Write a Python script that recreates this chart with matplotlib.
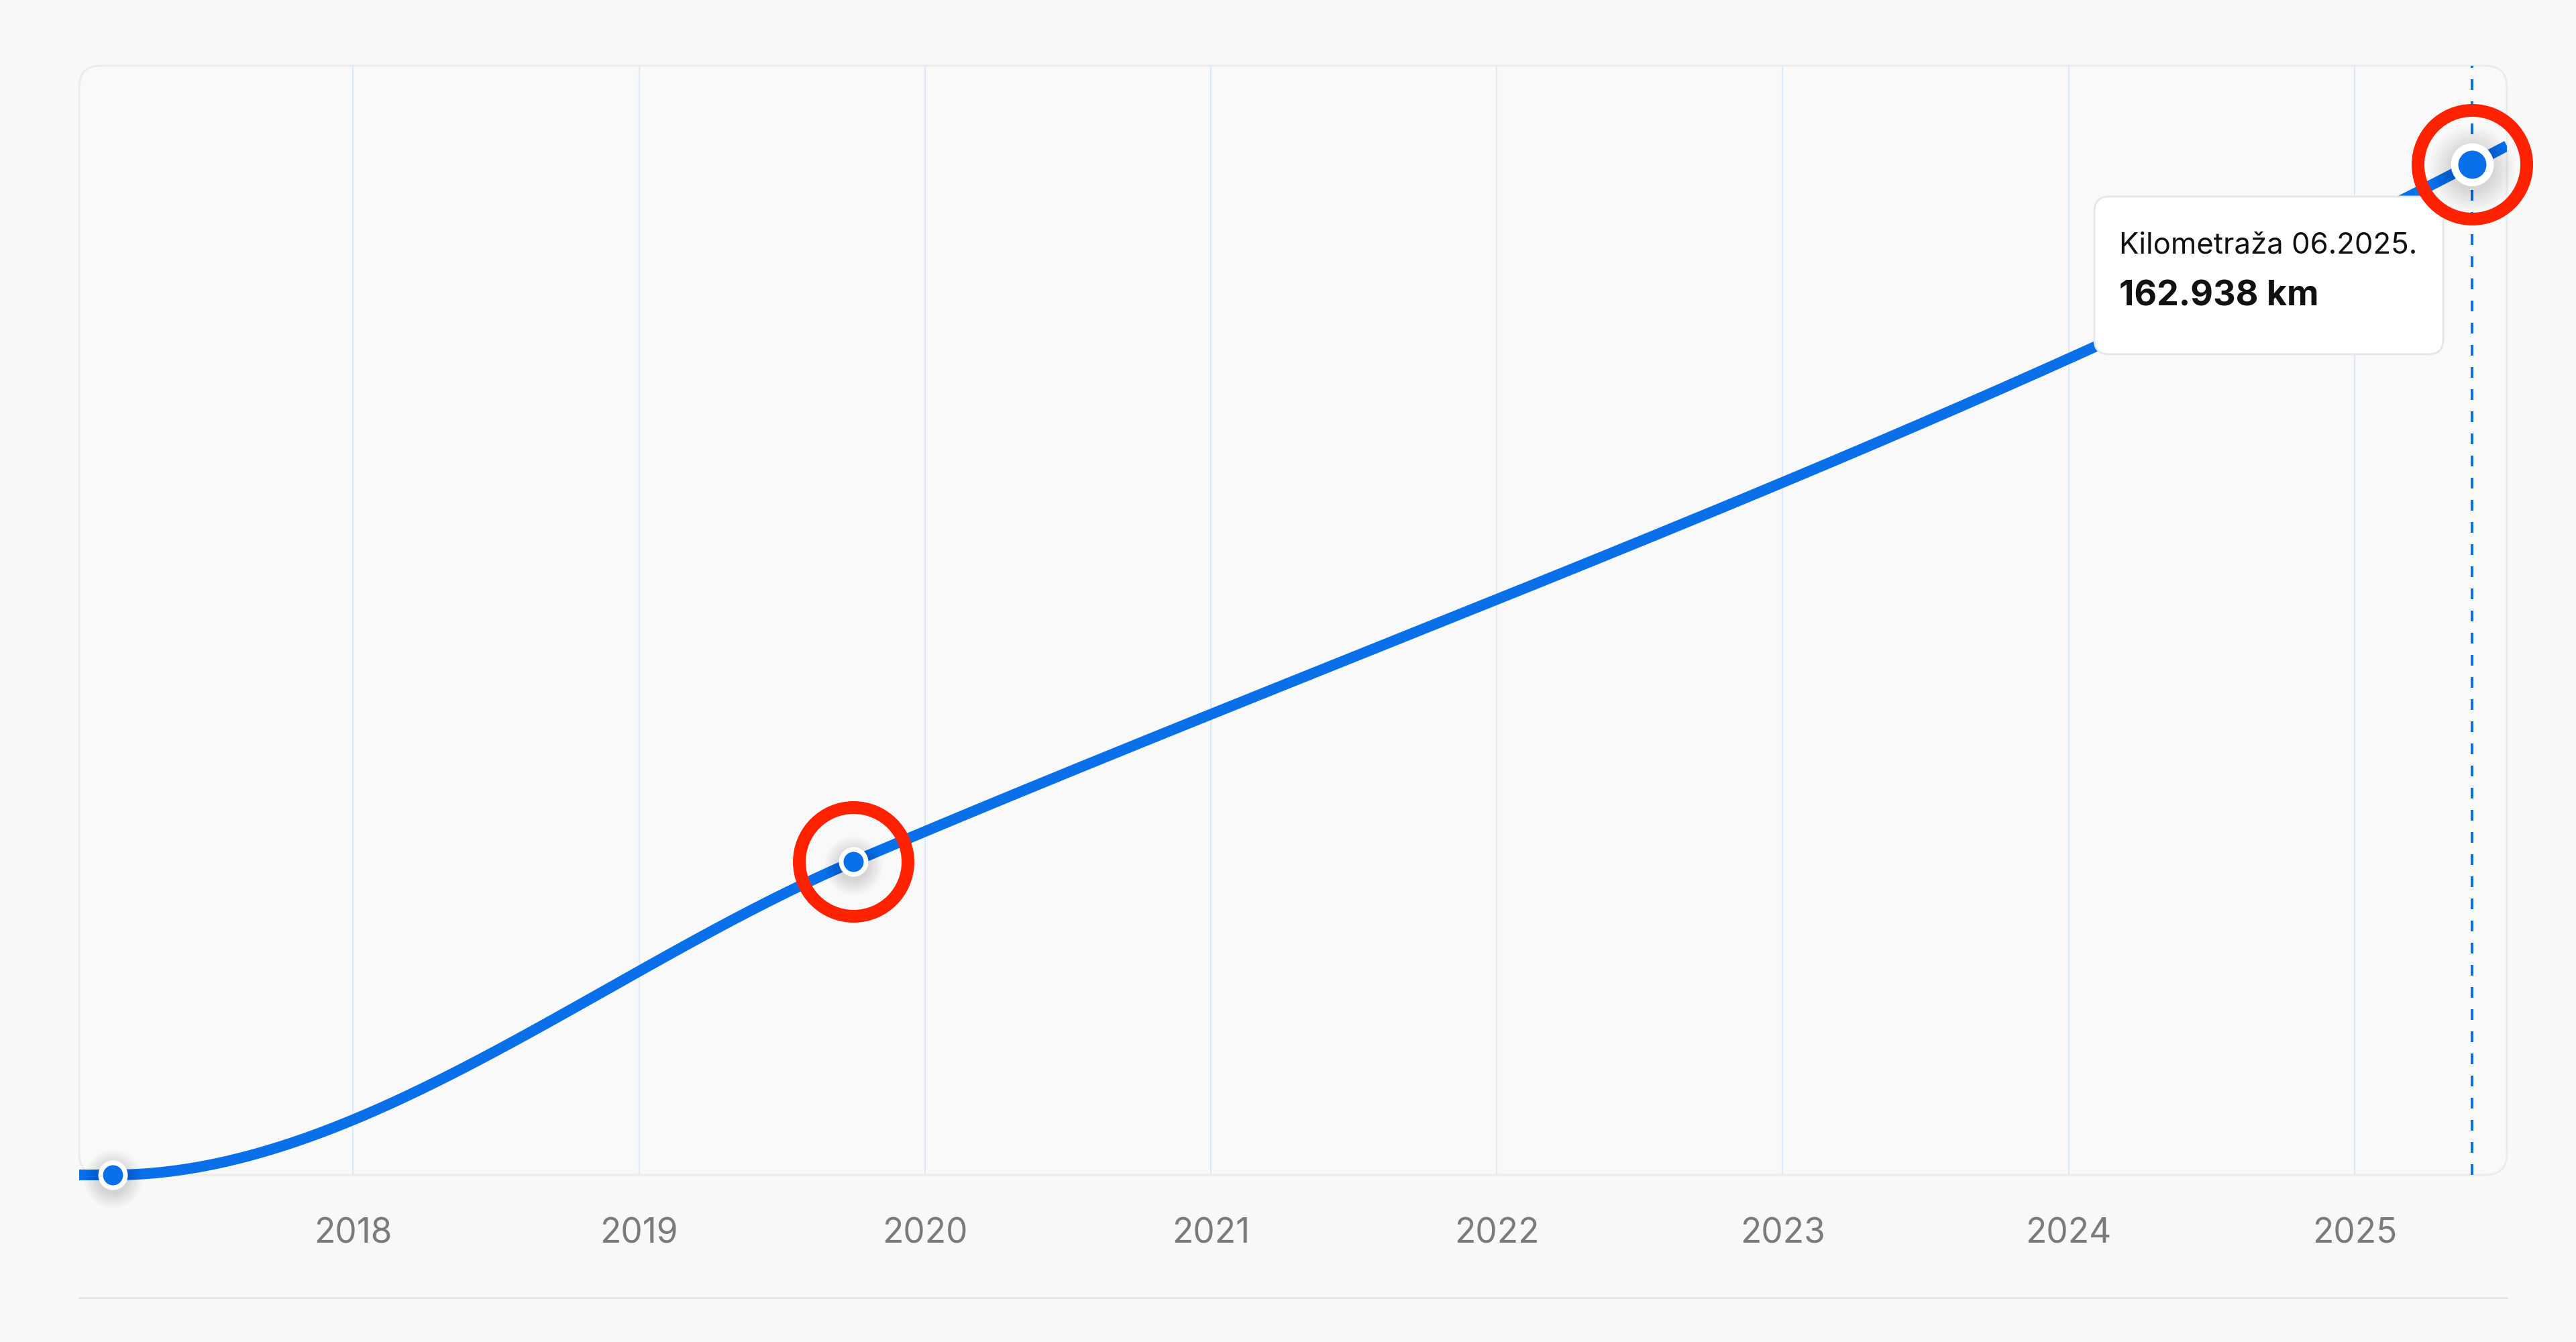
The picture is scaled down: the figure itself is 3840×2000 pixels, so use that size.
import numpy as np
import matplotlib
import matplotlib.pyplot as plt
from matplotlib.patches import FancyBboxPatch, Rectangle
from matplotlib.lines import Line2D
from matplotlib.transforms import IdentityTransform, offset_copy

plt.rcParams['font.family'] = ['Inter', 'DejaVu Sans']
plt.rcParams['lines.scale_dashes'] = False

# mileage readings: decimal year, km
years = [2017.16, 2019.75, 2025.41]
km = [0, 50500, 162938]
# the line runs on to both plot edges
edge_years = [2017.042, 2025.533]
edge_km = [0, 165900]
big_point = [False, False, True]
ringed = [False, True, True]

tick_years = [2018, 2019, 2020, 2021, 2022, 2023, 2024, 2025]
tip_title = 'Kilometraža 06.2025.'
tip_value = '162.938 km'

BLUE = '#0a70ea'
RED = '#ff2200'
BG = '#f8f8f8'
PX = 72 / 100  # points per pixel at dpi 100


def monotone_x(x, y, n=80):
    # same shape as d3.curveMonotoneX
    x = np.asarray(x, float)
    y = np.asarray(y, float)
    h = np.diff(x)
    s = np.diff(y) / h
    t = np.zeros(len(x))
    for i in range(1, len(x) - 1):
        p = (s[i-1] * h[i] + s[i] * h[i-1]) / (h[i-1] + h[i])
        t[i] = (np.sign(s[i-1]) + np.sign(s[i])) * min(abs(s[i-1]), abs(s[i]), 0.5 * abs(p))
    t[0] = (3 * s[0] - t[1]) / 2
    t[-1] = (3 * s[-1] - t[-2]) / 2
    xs, ys = [], []
    u = np.linspace(0, 1, n)
    for i in range(len(h)):
        h00 = 2*u**3 - 3*u**2 + 1
        h10 = u**3 - 2*u**2 + u
        h01 = -2*u**3 + 3*u**2
        h11 = u**3 - u**2
        xs.append(x[i] + u * h[i])
        ys.append(h00*y[i] + h10*h[i]*t[i] + h01*y[i+1] + h11*h[i]*t[i+1])
    return np.concatenate(xs), np.concatenate(ys)


W, H = 3840, 2000
L, R, T, B = 118, 3737, 98, 1751

fig = plt.figure(figsize=(W / 100, H / 100), dpi=100, facecolor=BG)
ax = fig.add_axes([L / W, 1 - B / H, (R - L) / W, (B - T) / H])
ax.set_facecolor('none')
ax.set_xlim(edge_years)
ax.set_ylim(0, 178800)
for sp in ax.spines.values():
    sp.set_visible(False)

# plot frame with rounded corners
frame = FancyBboxPatch((L, H - B), R - L, B - T, boxstyle='round,pad=0,rounding_size=32',
                       transform=IdentityTransform(), fc='#f9f9f9', ec='#ebebeb', lw=2, zorder=-1)
fig.add_artist(frame)

ax.set_xticks(tick_years)
ax.set_xticklabels([str(y) for y in tick_years])
ax.set_yticks([])
ax.grid(axis='x', color='#dde9f6', lw=1.6)
ax.tick_params(axis='x', length=0, pad=46, labelsize=37, labelcolor='#7b7b7b')

# line
cx, cy = monotone_x([edge_years[0]] + years + [edge_years[1]],
                    [edge_km[0]] + km + [edge_km[1]])
line, = ax.plot(cx, cy, color=BLUE, lw=16 * PX, solid_capstyle='butt', zorder=3)
clip = Rectangle((0, -0.1), 1, 1.2, transform=ax.transAxes, fc='none', ec='none')
line.set_clip_path(clip)

ax.axvline(years[-1], color=BLUE, lw=4 * PX, linestyle=(0, (16 * PX, 17 * PX)), zorder=2)

# soft shadows under the points
sh_tr = offset_copy(ax.transData, fig=fig, x=0, y=-6, units='dots')
for x, y, big in zip(years, km, big_point):
    r0 = 32 if big else 22
    for r in np.linspace(r0, r0 * 2.0, 12):
        ax.plot(x, y, 'o', ms=2 * r * PX, color='k', alpha=0.012, mec='none',
                transform=sh_tr, clip_on=False, zorder=4)

# points
for x, y, big in zip(years, km, big_point):
    if big:
        ms, mew = 53 * PX, 11 * PX
    else:
        ms, mew = 37 * PX, 7 * PX
    ax.plot(x, y, 'o', ms=ms, mfc=BLUE, mec='white', mew=mew, clip_on=False, zorder=5)

# tooltip
tip = FancyBboxPatch((3122, H - 528), 520, 235, boxstyle='round,pad=0,rounding_size=22',
                     transform=IdentityTransform(), fc='white', ec='#e6e6e6', lw=2,
                     clip_on=False, zorder=6)
ax.add_patch(tip)
ax.text(3159 / W, 1 - 377 / H, tip_title, transform=fig.transFigure, fontsize=31.5,
        color='#111111', va='baseline', ha='left', zorder=7)
ax.text(3159 / W, 1 - 455 / H, tip_value, transform=fig.transFigure, fontsize=37.5,
        fontweight='bold', color='#111111', va='baseline', ha='left', zorder=7)

# red highlight rings
for x, y, ring in zip(years, km, ringed):
    if ring:
        ax.plot(x, y, 'o', ms=162 * PX, mfc='none', mec=RED, mew=19 * PX,
                clip_on=False, zorder=8)

# separator under the axis labels
fig.add_artist(Line2D([L / W, R / W], [1 - 1934 / H] * 2, color='#e5e5e5', lw=3 * PX))

fig.savefig('out.png', dpi=100, facecolor=BG)
